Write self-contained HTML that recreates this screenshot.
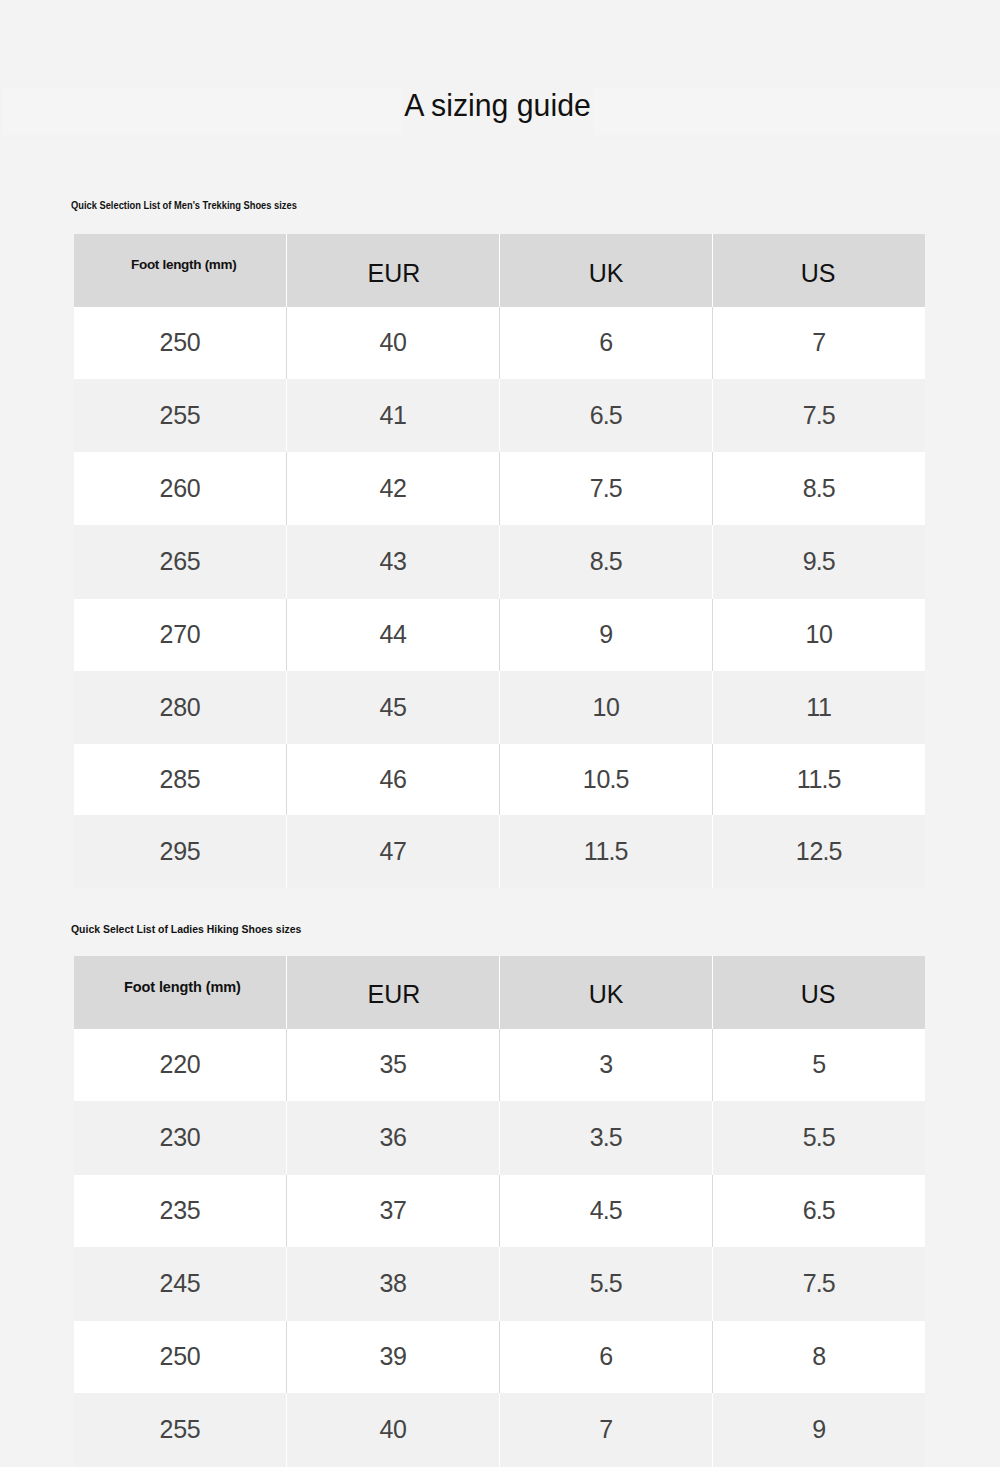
<!DOCTYPE html>
<html><head><meta charset="utf-8"><title>A sizing guide</title><style>
html,body{margin:0;padding:0;}
body{width:1000px;height:1467px;overflow:hidden;background:#f3f3f3;position:relative;font-family:"Liberation Sans",sans-serif;}
.r{position:absolute;}
.title{position:absolute;left:0;width:1000px;top:81px;height:49px;line-height:49px;text-align:center;font-size:31.5px;color:#111;letter-spacing:0px;text-indent:-5px;transform:scaleX(0.96);transform-origin:497px 0;}
.band{position:absolute;left:3px;top:88px;width:997px;height:47px;background:#f5f5f5;}
.sub{position:absolute;left:71px;font-size:11.5px;font-weight:bold;color:#111;white-space:nowrap;transform-origin:0 0;}
.hd{position:absolute;width:300px;text-align:center;font-size:25px;color:#111;}
.nm{position:absolute;width:300px;text-align:center;font-size:25px;color:#444444;letter-spacing:-0.3px;}
.nm b{font-weight:normal;margin:0 -0.6px;}
.ft{position:absolute;white-space:nowrap;font-weight:bold;color:#111;}
.f1{left:131px;top:257px;font-size:13.5px;letter-spacing:-0.3px;}
.f2{left:124px;top:979px;font-size:14.5px;letter-spacing:-0.1px;}
</style></head><body>
<div class="band"></div>
<div class="r" style="left:402px;top:85px;width:191px;height:50px;background:#f3f3f3"></div>
<div class="title">A sizing guide</div>
<div class="sub" style="top:199px;transform:scaleX(0.81)">Quick Selection List of Men's Trekking Shoes sizes</div>
<div class="r" style="left:74px;top:234px;width:851px;height:73px;background:#d9d9d9;"></div>
<div class="r" style="left:286px;top:234px;width:1px;height:73px;background:#ffffff;"></div>
<div class="r" style="left:499px;top:234px;width:1px;height:73px;background:#ffffff;"></div>
<div class="r" style="left:712px;top:234px;width:1px;height:73px;background:#ffffff;"></div>
<div class="r" style="left:74px;top:307px;width:851px;height:72px;background:#ffffff;"></div>
<div class="r" style="left:286px;top:307px;width:1px;height:72px;background:#d9d9d9;"></div>
<div class="r" style="left:499px;top:307px;width:1px;height:72px;background:#d9d9d9;"></div>
<div class="r" style="left:712px;top:307px;width:1px;height:72px;background:#d9d9d9;"></div>
<div class="r" style="left:74px;top:379px;width:851px;height:73px;background:#f1f1f1;"></div>
<div class="r" style="left:286px;top:379px;width:1px;height:73px;background:#ffffff;"></div>
<div class="r" style="left:499px;top:379px;width:1px;height:73px;background:#ffffff;"></div>
<div class="r" style="left:712px;top:379px;width:1px;height:73px;background:#ffffff;"></div>
<div class="r" style="left:74px;top:452px;width:851px;height:73px;background:#ffffff;"></div>
<div class="r" style="left:286px;top:452px;width:1px;height:73px;background:#d9d9d9;"></div>
<div class="r" style="left:499px;top:452px;width:1px;height:73px;background:#d9d9d9;"></div>
<div class="r" style="left:712px;top:452px;width:1px;height:73px;background:#d9d9d9;"></div>
<div class="r" style="left:74px;top:525px;width:851px;height:74px;background:#f1f1f1;"></div>
<div class="r" style="left:286px;top:525px;width:1px;height:74px;background:#ffffff;"></div>
<div class="r" style="left:499px;top:525px;width:1px;height:74px;background:#ffffff;"></div>
<div class="r" style="left:712px;top:525px;width:1px;height:74px;background:#ffffff;"></div>
<div class="r" style="left:74px;top:599px;width:851px;height:72px;background:#ffffff;"></div>
<div class="r" style="left:286px;top:599px;width:1px;height:72px;background:#d9d9d9;"></div>
<div class="r" style="left:499px;top:599px;width:1px;height:72px;background:#d9d9d9;"></div>
<div class="r" style="left:712px;top:599px;width:1px;height:72px;background:#d9d9d9;"></div>
<div class="r" style="left:74px;top:671px;width:851px;height:73px;background:#f1f1f1;"></div>
<div class="r" style="left:286px;top:671px;width:1px;height:73px;background:#ffffff;"></div>
<div class="r" style="left:499px;top:671px;width:1px;height:73px;background:#ffffff;"></div>
<div class="r" style="left:712px;top:671px;width:1px;height:73px;background:#ffffff;"></div>
<div class="r" style="left:74px;top:744px;width:851px;height:71px;background:#ffffff;"></div>
<div class="r" style="left:286px;top:744px;width:1px;height:71px;background:#d9d9d9;"></div>
<div class="r" style="left:499px;top:744px;width:1px;height:71px;background:#d9d9d9;"></div>
<div class="r" style="left:712px;top:744px;width:1px;height:71px;background:#d9d9d9;"></div>
<div class="r" style="left:74px;top:815px;width:851px;height:73px;background:#f1f1f1;"></div>
<div class="r" style="left:286px;top:815px;width:1px;height:73px;background:#ffffff;"></div>
<div class="r" style="left:499px;top:815px;width:1px;height:73px;background:#ffffff;"></div>
<div class="r" style="left:712px;top:815px;width:1px;height:73px;background:#ffffff;"></div>
<div class="ft f1">Foot length (mm)</div>
<div class="hd" style="left:244px;top:237px;height:72px;line-height:72px">EUR</div>
<div class="hd" style="left:456px;top:237px;height:72px;line-height:72px">UK</div>
<div class="hd" style="left:668px;top:237px;height:72px;line-height:72px">US</div>
<div class="nm" style="left:30px;top:306px;height:72px;line-height:72px">250</div>
<div class="nm" style="left:243px;top:306px;height:72px;line-height:72px">40</div>
<div class="nm" style="left:456px;top:306px;height:72px;line-height:72px">6</div>
<div class="nm" style="left:669px;top:306px;height:72px;line-height:72px">7</div>
<div class="nm" style="left:30px;top:379px;height:72px;line-height:72px">255</div>
<div class="nm" style="left:243px;top:379px;height:72px;line-height:72px">41</div>
<div class="nm" style="left:456px;top:379px;height:72px;line-height:72px">6<b>.</b>5</div>
<div class="nm" style="left:669px;top:379px;height:72px;line-height:72px">7<b>.</b>5</div>
<div class="nm" style="left:30px;top:452px;height:72px;line-height:72px">260</div>
<div class="nm" style="left:243px;top:452px;height:72px;line-height:72px">42</div>
<div class="nm" style="left:456px;top:452px;height:72px;line-height:72px">7<b>.</b>5</div>
<div class="nm" style="left:669px;top:452px;height:72px;line-height:72px">8<b>.</b>5</div>
<div class="nm" style="left:30px;top:525px;height:72px;line-height:72px">265</div>
<div class="nm" style="left:243px;top:525px;height:72px;line-height:72px">43</div>
<div class="nm" style="left:456px;top:525px;height:72px;line-height:72px">8<b>.</b>5</div>
<div class="nm" style="left:669px;top:525px;height:72px;line-height:72px">9<b>.</b>5</div>
<div class="nm" style="left:30px;top:598px;height:72px;line-height:72px">270</div>
<div class="nm" style="left:243px;top:598px;height:72px;line-height:72px">44</div>
<div class="nm" style="left:456px;top:598px;height:72px;line-height:72px">9</div>
<div class="nm" style="left:669px;top:598px;height:72px;line-height:72px">10</div>
<div class="nm" style="left:30px;top:671px;height:72px;line-height:72px">280</div>
<div class="nm" style="left:243px;top:671px;height:72px;line-height:72px">45</div>
<div class="nm" style="left:456px;top:671px;height:72px;line-height:72px">10</div>
<div class="nm" style="left:669px;top:671px;height:72px;line-height:72px">11</div>
<div class="nm" style="left:30px;top:743px;height:72px;line-height:72px">285</div>
<div class="nm" style="left:243px;top:743px;height:72px;line-height:72px">46</div>
<div class="nm" style="left:456px;top:743px;height:72px;line-height:72px">10<b>.</b>5</div>
<div class="nm" style="left:669px;top:743px;height:72px;line-height:72px">11<b>.</b>5</div>
<div class="nm" style="left:30px;top:815px;height:72px;line-height:72px">295</div>
<div class="nm" style="left:243px;top:815px;height:72px;line-height:72px">47</div>
<div class="nm" style="left:456px;top:815px;height:72px;line-height:72px">11<b>.</b>5</div>
<div class="nm" style="left:669px;top:815px;height:72px;line-height:72px">12<b>.</b>5</div>
<div class="sub" style="top:923px;transform:scaleX(0.908)">Quick Select List of Ladies Hiking Shoes sizes</div>
<div class="r" style="left:74px;top:956px;width:851px;height:73px;background:#d9d9d9;"></div>
<div class="r" style="left:286px;top:956px;width:1px;height:73px;background:#ffffff;"></div>
<div class="r" style="left:499px;top:956px;width:1px;height:73px;background:#ffffff;"></div>
<div class="r" style="left:712px;top:956px;width:1px;height:73px;background:#ffffff;"></div>
<div class="r" style="left:74px;top:1029px;width:851px;height:72px;background:#ffffff;"></div>
<div class="r" style="left:286px;top:1029px;width:1px;height:72px;background:#d9d9d9;"></div>
<div class="r" style="left:499px;top:1029px;width:1px;height:72px;background:#d9d9d9;"></div>
<div class="r" style="left:712px;top:1029px;width:1px;height:72px;background:#d9d9d9;"></div>
<div class="r" style="left:74px;top:1101px;width:851px;height:74px;background:#f1f1f1;"></div>
<div class="r" style="left:286px;top:1101px;width:1px;height:74px;background:#ffffff;"></div>
<div class="r" style="left:499px;top:1101px;width:1px;height:74px;background:#ffffff;"></div>
<div class="r" style="left:712px;top:1101px;width:1px;height:74px;background:#ffffff;"></div>
<div class="r" style="left:74px;top:1175px;width:851px;height:72px;background:#ffffff;"></div>
<div class="r" style="left:286px;top:1175px;width:1px;height:72px;background:#d9d9d9;"></div>
<div class="r" style="left:499px;top:1175px;width:1px;height:72px;background:#d9d9d9;"></div>
<div class="r" style="left:712px;top:1175px;width:1px;height:72px;background:#d9d9d9;"></div>
<div class="r" style="left:74px;top:1247px;width:851px;height:74px;background:#f1f1f1;"></div>
<div class="r" style="left:286px;top:1247px;width:1px;height:74px;background:#ffffff;"></div>
<div class="r" style="left:499px;top:1247px;width:1px;height:74px;background:#ffffff;"></div>
<div class="r" style="left:712px;top:1247px;width:1px;height:74px;background:#ffffff;"></div>
<div class="r" style="left:74px;top:1321px;width:851px;height:72px;background:#ffffff;"></div>
<div class="r" style="left:286px;top:1321px;width:1px;height:72px;background:#d9d9d9;"></div>
<div class="r" style="left:499px;top:1321px;width:1px;height:72px;background:#d9d9d9;"></div>
<div class="r" style="left:712px;top:1321px;width:1px;height:72px;background:#d9d9d9;"></div>
<div class="r" style="left:74px;top:1393px;width:851px;height:74px;background:#f1f1f1;"></div>
<div class="r" style="left:286px;top:1393px;width:1px;height:74px;background:#ffffff;"></div>
<div class="r" style="left:499px;top:1393px;width:1px;height:74px;background:#ffffff;"></div>
<div class="r" style="left:712px;top:1393px;width:1px;height:74px;background:#ffffff;"></div>
<div class="ft f2">Foot length (mm)</div>
<div class="hd" style="left:244px;top:958px;height:72px;line-height:72px">EUR</div>
<div class="hd" style="left:456px;top:958px;height:72px;line-height:72px">UK</div>
<div class="hd" style="left:668px;top:958px;height:72px;line-height:72px">US</div>
<div class="nm" style="left:30px;top:1028px;height:72px;line-height:72px">220</div>
<div class="nm" style="left:243px;top:1028px;height:72px;line-height:72px">35</div>
<div class="nm" style="left:456px;top:1028px;height:72px;line-height:72px">3</div>
<div class="nm" style="left:669px;top:1028px;height:72px;line-height:72px">5</div>
<div class="nm" style="left:30px;top:1101px;height:72px;line-height:72px">230</div>
<div class="nm" style="left:243px;top:1101px;height:72px;line-height:72px">36</div>
<div class="nm" style="left:456px;top:1101px;height:72px;line-height:72px">3<b>.</b>5</div>
<div class="nm" style="left:669px;top:1101px;height:72px;line-height:72px">5<b>.</b>5</div>
<div class="nm" style="left:30px;top:1174px;height:72px;line-height:72px">235</div>
<div class="nm" style="left:243px;top:1174px;height:72px;line-height:72px">37</div>
<div class="nm" style="left:456px;top:1174px;height:72px;line-height:72px">4<b>.</b>5</div>
<div class="nm" style="left:669px;top:1174px;height:72px;line-height:72px">6<b>.</b>5</div>
<div class="nm" style="left:30px;top:1247px;height:72px;line-height:72px">245</div>
<div class="nm" style="left:243px;top:1247px;height:72px;line-height:72px">38</div>
<div class="nm" style="left:456px;top:1247px;height:72px;line-height:72px">5<b>.</b>5</div>
<div class="nm" style="left:669px;top:1247px;height:72px;line-height:72px">7<b>.</b>5</div>
<div class="nm" style="left:30px;top:1320px;height:72px;line-height:72px">250</div>
<div class="nm" style="left:243px;top:1320px;height:72px;line-height:72px">39</div>
<div class="nm" style="left:456px;top:1320px;height:72px;line-height:72px">6</div>
<div class="nm" style="left:669px;top:1320px;height:72px;line-height:72px">8</div>
<div class="nm" style="left:30px;top:1393px;height:72px;line-height:72px">255</div>
<div class="nm" style="left:243px;top:1393px;height:72px;line-height:72px">40</div>
<div class="nm" style="left:456px;top:1393px;height:72px;line-height:72px">7</div>
<div class="nm" style="left:669px;top:1393px;height:72px;line-height:72px">9</div>
</body></html>
